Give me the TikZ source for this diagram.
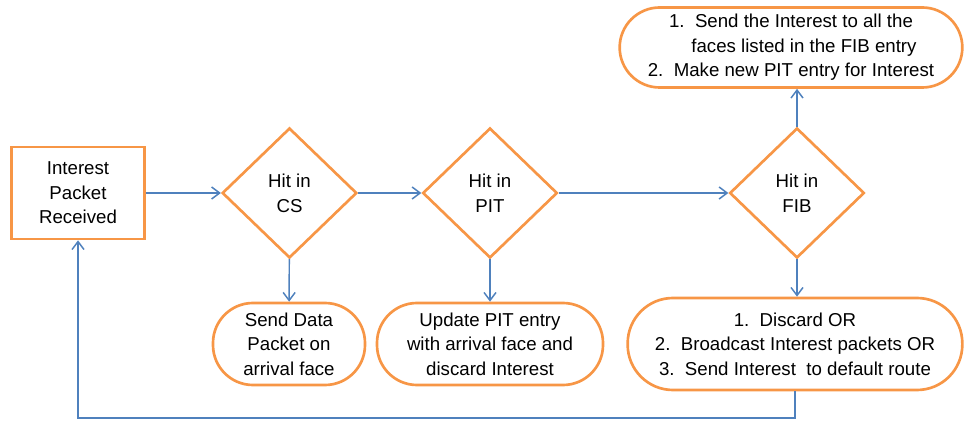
\documentclass[tikz,border=0pt]{standalone}
\usepackage{fontspec}
\setmainfont{Liberation Sans}
\usetikzlibrary{shapes.geometric,arrows.meta}
\definecolor{boxorange}{HTML}{F79646}
\definecolor{lineblue}{HTML}{4F81BD}
\tikzset{
  flow/.style = {
    draw=boxorange, line width=2pt, align=center, inner sep=0pt,
    font=\fontsize{14}{18.5}\selectfont
  },
  startbox/.style = {flow, rectangle, minimum width=100pt, minimum height=69pt},
  decision/.style = {flow, diamond, minimum width=101pt, minimum height=97.5pt},
  action/.style = {flow, rectangle, rounded corners=30pt, minimum height=61.5pt},
  link/.style = {draw=lineblue, line width=1.1pt, -{Straight Barb[length=6pt,width=9pt]}}
}

\begin{document}
\begin{tikzpicture}[x=0.75pt,y=0.75pt]
  \useasboundingbox (0,0) rectangle (965,422);
  % start and decisions
  \node[startbox] (received) at (78,229) {Interest\\Packet\\Received};
  \node[decision] (cs) at (289.5,229) {Hit in\\CS};
  \node[decision] (pit) at (490,229) {Hit in\\PIT};
  \node[decision] (fib) at (797,229) {Hit in\\FIB};
  % outcomes
  \node[action, minimum width=114pt] (senddata) at (289,78)
    {Send Data\\Packet on\\arrival face};
  \node[action, minimum width=169.5pt] (update) at (490,78)
    {Update PIT entry\\with arrival face and\\discard Interest};
  \node[action, minimum width=251pt, minimum height=69pt, rounded corners=34pt] (nofib) at (795,78)
    {1.\ \ Discard OR\\2.\ \ Broadcast Interest packets OR\\3.\ \ Send Interest\ \ to default route};
  \node[action, minimum width=257pt, minimum height=60pt] (forward) at (791,374.5)
    {1.\ \ Send the Interest to all the\\\hphantom{1.\ \ }faces listed in the FIB entry\\2.\ \ Make new PIT entry for Interest};
  \coordinate (loop) at (78,4);
  % connectors
  \draw[link] (received) -- (cs);
  \draw[link] (cs) -- (pit);
  \draw[link] (pit) -- (fib);
  \draw[link] (cs) -- (senddata);
  \draw[link] (pit) -- (update);
  \draw[link] (fib.south) -- (fib.south |- nofib.north);
  \draw[link] (fib.north) -- (fib.north |- forward.south);
  \draw[link] (nofib.south) |- (loop) -- (received);
\end{tikzpicture}
\end{document}
